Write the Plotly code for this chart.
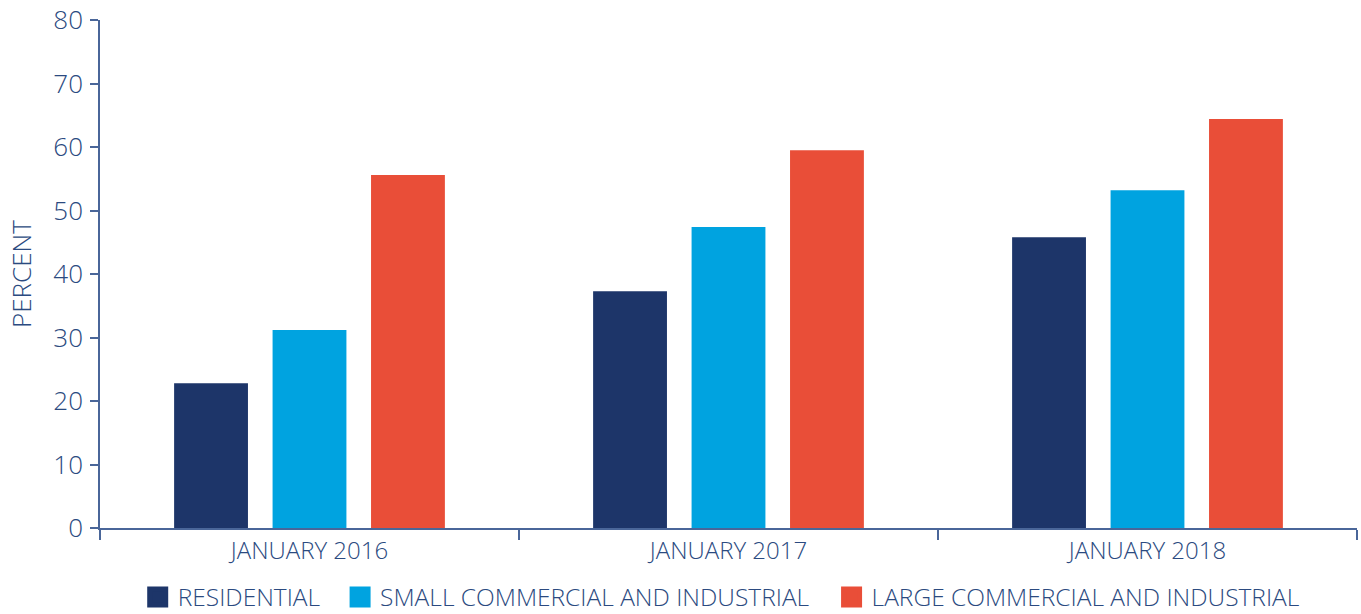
import plotly.graph_objects as go

categories = ["JANUARY 2016", "JANUARY 2017", "JANUARY 2018"]
series_names = ["RESIDENTIAL", "SMALL COMMERCIAL AND INDUSTRIAL", "LARGE COMMERCIAL AND INDUSTRIAL"]
residential = [22.8, 37.3, 45.8]
small_ci = [31.2, 47.4, 53.2]
large_ci = [55.6, 59.5, 64.4]
colors = ["#1d3569", "#00a3e0", "#e94e38"]
y_ticks = [0, 10, 20, 30, 40, 50, 60, 70, 80]

TEXT = "#2b4a80"
AXIS = "#4a6699"
FONT = "Open Sans"

# legend layout (paper fractions of the plot width) for the three entries
legend_x = [0.030, 0.191, 0.582]
legend_ids = ["legend", "legend2", "legend3"]

fig = go.Figure()
for name, vals, col in zip(series_names, [residential, small_ci, large_ci], colors):
    fig.add_trace(go.Bar(x=categories, y=vals, name=name, marker=dict(color=col, line=dict(width=0)),
                         showlegend=False))
# legend proxies (square swatches)
for name, col, lid in zip(series_names, colors, legend_ids):
    fig.add_trace(go.Scatter(x=[None], y=[None], mode="markers", name=name, legend=lid,
                             marker=dict(symbol="square", size=16, color=col,
                                         line=dict(color=col, width=5)),
                             showlegend=True))

legend_common = dict(orientation="h", xanchor="left", y=-0.0915, yanchor="top",
                     font=dict(family=FONT, size=24.5, color=TEXT, weight=300),
                     itemsizing="trace", bgcolor="rgba(0,0,0,0)", borderwidth=0)

fig.update_layout(
    width=1361, height=614,
    margin=dict(l=100, r=4, t=20, b=86, autoexpand=False),
    paper_bgcolor="white", plot_bgcolor="white",
    barmode="group", bargap=0.295, bargroupgap=0.25,
    font=dict(family=FONT, color=TEXT, size=24, weight=300),
    legend=dict(x=legend_x[0], **legend_common),
    legend2=dict(x=legend_x[1], **legend_common),
    legend3=dict(x=legend_x[2], **legend_common),
    xaxis=dict(type="category", showline=True, linecolor=AXIS, linewidth=1.5,
               ticks="outside", tickson="boundaries", ticklen=10, tickcolor=AXIS, tickwidth=1.5,
               tickfont=dict(family=FONT, size=24, color=TEXT, weight=300),
               showgrid=False, zeroline=False),
    yaxis=dict(range=[0, 80], tickvals=y_ticks, showline=True, linecolor=AXIS, linewidth=1.5,
               ticks="outside", ticklen=8, tickcolor=AXIS, tickwidth=1.5,
               ticklabelstandoff=2,
               tickfont=dict(family=FONT, size=26, color=TEXT, weight=300),
               showgrid=False, zeroline=False,
               title=dict(text="PERCENT", font=dict(family=FONT, size=26, color=TEXT, weight=300),
                          standoff=14)),
)

fig.write_html("out.html")
